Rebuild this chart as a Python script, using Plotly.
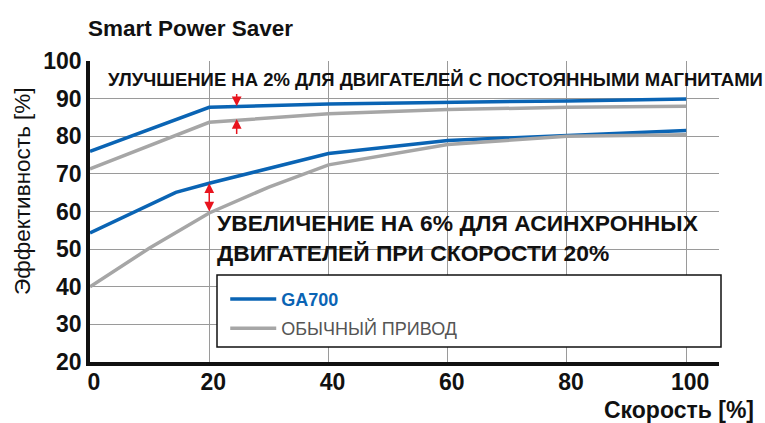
import plotly.graph_objects as go

# ---- data ----
speed_pm = [0, 20, 40, 60, 80, 100]
ga700_pm = [76.0, 87.7, 88.6, 88.9, 89.4, 89.9]
conv_pm = [71.3, 83.7, 86.0, 87.1, 87.7, 88.0]

speed_im_ga = [0, 14.4, 20, 40, 60, 80, 100]
ga700_im = [54.3, 65.1, 67.5, 75.4, 78.9, 80.2, 81.5]
speed_im_conv = [0, 10, 20, 30, 40, 60, 80, 100]
conv_im = [40.0, 50.3, 59.6, 66.5, 72.4, 77.8, 80.0, 80.4]

x_ticks = [0, 20, 40, 60, 80, 100]
y_ticks = [20, 30, 40, 50, 60, 70, 80, 90, 100]

title_text = "Smart Power Saver"
y_title = "Эффективность [%]"
x_title = "Скорость [%]"
note_pm = "УЛУЧШЕНИЕ НА 2% ДЛЯ ДВИГАТЕЛЕЙ С ПОСТОЯННЫМИ МАГНИТАМИ"
note_im = "УВЕЛИЧЕНИЕ НА 6% ДЛЯ АСИНХРОННЫХ<br>ДВИГАТЕЛЕЙ ПРИ СКОРОСТИ 20%"
name_ga = "GA700"
name_conv = "ОБЫЧНЫЙ ПРИВОД"

# arrows: (x, y_tip, y_tail)
arrow_pm_down = (24.6, 88.0, 91.6)
arrow_pm_up = (24.6, 84.6, 80.2)
arrow_im = (20, 67.5, 59.6)

BLUE = "#0a64b4"
GRAY = "#a6a6a6"
RED = "#e8141e"
FONT = "Liberation Sans"

fig = go.Figure()
fig.add_trace(go.Scatter(x=speed_pm, y=ga700_pm, mode="lines",
                         name="<b><span style='color:%s'>%s</span></b>" % (BLUE, name_ga),
                         legendgroup="ga", showlegend=True,
                         line=dict(color=BLUE, width=3.5)))
fig.add_trace(go.Scatter(x=speed_im_ga, y=ga700_im, mode="lines", name=name_ga,
                         legendgroup="ga", showlegend=False,
                         line=dict(color=BLUE, width=3.5)))
fig.add_trace(go.Scatter(x=speed_pm, y=conv_pm, mode="lines", name=name_conv,
                         legendgroup="conv", showlegend=True,
                         line=dict(color=GRAY, width=3.5)))
fig.add_trace(go.Scatter(x=speed_im_conv, y=conv_im, mode="lines", name=name_conv,
                         legendgroup="conv", showlegend=False,
                         line=dict(color=GRAY, width=3.5)))

annotations = [
    dict(text=note_pm, xref="paper", yref="paper", x=0.026, y=0.937,
         xanchor="left", yanchor="middle", showarrow=False,
         font=dict(family=FONT, size=18.5, color="#111111", weight="bold")),
    dict(text=note_im, xref="paper", yref="paper", x=0.198, y=0.412,
         xanchor="left", yanchor="middle", align="left", showarrow=False,
         font=dict(family=FONT, size=22.8, color="#111111", weight="bold")),
    dict(text=x_title, xref="paper", yref="paper", x=(756 - 90) / 629, y=-0.16,
         xanchor="right", yanchor="middle", showarrow=False,
         font=dict(family=FONT, size=23, color="#111111", weight="bold")),
    dict(text=y_title, xref="paper", yref="paper", x=(22 - 90) / 629,
         y=(362 - 191) / 301, xanchor="center", yanchor="middle",
         textangle=-90, showarrow=False,
         font=dict(family=FONT, size=22.5, color="#111111")),
]
for (ax_x, tip, tail) in [arrow_pm_down, arrow_pm_up]:
    annotations.append(dict(x=ax_x, y=tip, ax=ax_x, ay=tail, xref="x", yref="y",
                            axref="x", ayref="y", text="", showarrow=True,
                            arrowhead=2, arrowsize=1.3, arrowwidth=1.5, arrowcolor=RED))
annotations.append(dict(x=arrow_im[0], y=arrow_im[1], ax=arrow_im[0], ay=arrow_im[2],
                        xref="x", yref="y", axref="x", ayref="y", text="",
                        showarrow=True, arrowhead=2, startarrowhead=2,
                        arrowside="end+start", arrowsize=1.3, startarrowsize=1.3,
                        arrowwidth=1.5, arrowcolor=RED))

fig.update_layout(
    width=765, height=423,
    margin=dict(l=90, r=46, t=61, b=61, autoexpand=False),
    paper_bgcolor="white", plot_bgcolor="white",
    title=dict(text=title_text, x=88 / 765, xanchor="left", y=1 - 28 / 423,
               yanchor="middle", xref="container", yref="container",
               font=dict(family=FONT, size=22.5, color="#111111", weight="bold")),
    xaxis=dict(range=[0, 105.5], tickvals=x_ticks, ticktext=[str(v) for v in x_ticks],
               showgrid=True, gridcolor="#9a9a9a", gridwidth=1,
               showline=True, linecolor="#111111", linewidth=3.5,
               ticks="", ticklabelstandoff=-3, ticklabelshift=4, automargin=False,
               tickfont=dict(family=FONT, size=23, color="#111111", weight="bold"),
               zeroline=False, fixedrange=True),
    yaxis=dict(range=[20, 100], tickvals=y_ticks, ticktext=[str(v) for v in y_ticks],
               showgrid=True, gridcolor="#9a9a9a", gridwidth=1,
               showline=True, linecolor="#111111", linewidth=3.5,
               ticks="", ticklabelstandoff=0, automargin=False,
               tickfont=dict(family=FONT, size=23, color="#111111", weight="bold"),
               zeroline=False, fixedrange=True),
    legend=dict(x=0.215, y=0.27, xanchor="left", yanchor="top",
                bgcolor="rgba(0,0,0,0)", borderwidth=0,
                traceorder="grouped", tracegroupgap=3, itemwidth=46,
                font=dict(family=FONT, size=18, color="#555555")),
    shapes=[dict(type="rect", xref="paper", yref="paper", x0=(217 - 90) / 629,
                 x1=(721 - 90) / 629, y0=(362 - 347) / 301, y1=(362 - 275) / 301,
                 fillcolor="white", line=dict(color="#111111", width=1.5),
                 layer="above")],
    annotations=annotations,
    showlegend=True,
)

fig.write_html("out.html", config={"displayModeBar": False},
               post_script="document.body.style.margin='0px';")
